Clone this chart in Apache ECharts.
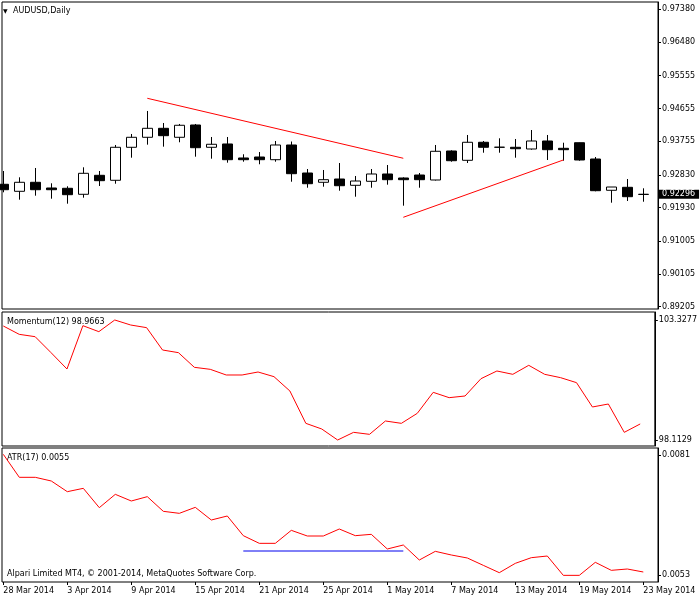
<!DOCTYPE html>
<html><head><meta charset="utf-8">
<script src="https://cdn.jsdelivr.net/npm/echarts@6/dist/echarts.min.js"></script>
<style>html,body{margin:0;padding:0;background:#fff}#c{width:700px;height:600px}</style>
</head><body><div id="c"></div><script>
const dates=['28 Mar 2014','31 Mar 2014','1 Apr 2014','2 Apr 2014','3 Apr 2014','4 Apr 2014','7 Apr 2014','8 Apr 2014','9 Apr 2014','10 Apr 2014','11 Apr 2014','14 Apr 2014','15 Apr 2014','16 Apr 2014','17 Apr 2014','18 Apr 2014','21 Apr 2014','22 Apr 2014','23 Apr 2014','24 Apr 2014','25 Apr 2014','28 Apr 2014','29 Apr 2014','30 Apr 2014','1 May 2014','2 May 2014','5 May 2014','6 May 2014','7 May 2014','8 May 2014','9 May 2014','12 May 2014','13 May 2014','14 May 2014','15 May 2014','16 May 2014','19 May 2014','20 May 2014','21 May 2014','22 May 2014','23 May 2014'];
const openP=[0.92570,0.92377,0.92625,0.92468,0.92460,0.92295,0.92817,0.92680,0.93587,0.93862,0.94109,0.93862,0.94200,0.93587,0.93678,0.93293,0.93320,0.93246,0.93650,0.92880,0.92625,0.92715,0.92542,0.92652,0.92853,0.92743,0.92825,0.92688,0.93485,0.93229,0.93725,0.93587,0.93587,0.93540,0.93760,0.93559,0.93713,0.93265,0.92405,0.92487,0.92290];
const closeP=[0.92421,0.92625,0.92421,0.92421,0.92284,0.92872,0.92669,0.93587,0.93862,0.94109,0.93906,0.94192,0.93576,0.93670,0.93246,0.93246,0.93246,0.93650,0.92861,0.92586,0.92696,0.92531,0.92660,0.92853,0.92696,0.92696,0.92696,0.93477,0.93218,0.93725,0.93587,0.93590,0.93548,0.93760,0.93521,0.93521,0.93238,0.92394,0.92495,0.92229,0.92296];
const lowP=[0.92350,0.92147,0.92257,0.92174,0.92037,0.92202,0.92523,0.92586,0.93301,0.93659,0.93604,0.93725,0.93329,0.93274,0.93164,0.93191,0.93120,0.93191,0.92641,0.92476,0.92504,0.92394,0.92229,0.92476,0.92559,0.91982,0.92476,0.92674,0.93191,0.93155,0.93438,0.93438,0.93301,0.93521,0.93238,0.93218,0.93218,0.92377,0.92064,0.92111,0.92091];
const highP=[0.92935,0.92762,0.93018,0.92597,0.92515,0.93037,0.92935,0.93650,0.93953,0.94585,0.94255,0.94228,0.94228,0.93870,0.93870,0.93395,0.93457,0.93760,0.93746,0.92990,0.92963,0.93155,0.92798,0.92990,0.93100,0.92762,0.92880,0.93650,0.93504,0.93925,0.93760,0.93834,0.93815,0.94062,0.93925,0.93713,0.93719,0.93320,0.92495,0.92715,0.92460];
const momentum=[103.067,102.705,102.603,101.908,101.198,103.081,102.821,103.3277,103.110,102.995,102.024,101.908,101.271,101.184,100.938,100.938,101.068,100.865,100.242,98.837,98.591,98.1129,98.446,98.359,98.939,98.837,99.272,100.184,99.953,100.025,100.778,101.112,100.967,101.358,100.967,100.822,100.605,99.547,99.677,98.446,98.81];
const atr=[0.008116,0.007579,0.007579,0.007493,0.007244,0.007322,0.006871,0.007182,0.007027,0.007128,0.006786,0.006739,0.006879,0.006583,0.006677,0.006218,0.006039,0.006039,0.006342,0.006210,0.006210,0.006373,0.006218,0.006249,0.005907,0.006000,0.005650,0.005852,0.005767,0.005697,0.005525,0.005354,0.005572,0.005704,0.005743,0.005292,0.005292,0.005596,0.005409,0.005440,0.005370];
const priceTicks=[0.97380,0.96480,0.95555,0.94655,0.93755,0.92830,0.91930,0.91005,0.90105,0.89205];
const momTicks=[103.3277,98.1129];
const atrTicks=[0.0081,0.0053];
const dateTickIdx=[0,4,8,12,16,20,24,28,32,36,40];
const lastPrice=0.92296;
const trendDown=[[9,0.94934],[25,0.93285]];
const trendUp=[[25,0.91663],[35,0.93238]];
const atrLevel=[[15,0.00586],[25,0.00586]];
const titleText='AUDUSD,Daily';
const momText='Momentum(12) 98.9663';
const atrText='ATR(17) 0.0055';
const copyText='Alpari Limited MT4, \u00a9 2001-2014, MetaQuotes Software Corp.';

const FF='"DejaVu Sans", sans-serif';
const FS=8;
const chart=echarts.init(document.getElementById('c'));
const gridBase={left:2,width:656,show:true,borderColor:'#000',borderWidth:1,backgroundColor:'rgba(0,0,0,0)'};
const xMin=-0.08125, xMax=40.91875;
function xAx(i,show){
  const o={gridIndex:i,type:'value',min:xMin,max:xMax,splitLine:{show:false},axisLine:{show:false,onZero:false}};
  if(!show){o.show=false;o.axisTick={show:false};o.axisLabel={show:false};return o;}
  o.axisTick={show:true,length:3,customValues:dateTickIdx,lineStyle:{color:'#000'}};
  o.axisLabel={customValues:dateTickIdx,formatter:v=>dates[Math.round(v)],align:'left',margin:5,color:'#000',fontSize:FS,fontFamily:FF};
  return o;
}
function yAx(i,min,max,ticks,fmt){
  return {gridIndex:i,type:'value',position:'right',min:min,max:max,
    splitLine:{show:false},
    axisLine:{show:true,onZero:false,lineStyle:{color:'#000'}},
    axisTick:{show:true,length:3,customValues:ticks,lineStyle:{color:'#000'}},
    axisLabel:{customValues:ticks,formatter:fmt,margin:4,color:'#000',fontSize:FS,fontFamily:FF}};
}
const redLine={color:'#ff0000',width:1};
chart.setOption({
  animation:false,
  grid:[Object.assign({top:2,height:307},gridBase),Object.assign({top:312,height:134},gridBase),Object.assign({top:448,height:134},gridBase)],
  xAxis:[xAx(0,false),xAx(1,false),xAx(2,true)],
  yAxis:[yAx(0,0.891419,0.9758066,priceTicks,v=>v.toFixed(5)),
         yAx(1,97.8522,103.6753,momTicks,v=>v.toFixed(4)),
         yAx(2,0.0051367,0.0082633,atrTicks,v=>v.toFixed(4))],
  graphic:[
    {type:'text',x:3,y:11,style:{text:'\u25BC',fontSize:6,fontFamily:FF,fill:'#000',verticalAlign:'middle'}},
    {type:'text',x:13,y:11,style:{text:titleText,fontSize:FS,fontFamily:FF,fill:'#000',verticalAlign:'middle'}},
    {type:'text',x:7,y:322,style:{text:momText,fontSize:FS,fontFamily:FF,fill:'#000',verticalAlign:'middle'}},
    {type:'text',x:7,y:458,style:{text:atrText,fontSize:FS,fontFamily:FF,fill:'#000',verticalAlign:'middle'}},
    {type:'text',x:7,y:574,style:{text:copyText,fontSize:FS,fontFamily:FF,fill:'#000',verticalAlign:'middle'}}
  ],
  series:[
    {type:'candlestick',xAxisIndex:0,yAxisIndex:0,barWidth:10,clip:true,
     data:dates.map((d,i)=>[i,openP[i],closeP[i],lowP[i],highP[i]]),
     encode:{x:0,y:[1,2,3,4]},
     itemStyle:{color:'#fff',color0:'#000',borderColor:'#000',borderColor0:'#000',borderWidth:1}},
    {type:'line',xAxisIndex:0,yAxisIndex:0,data:trendDown,showSymbol:false,lineStyle:redLine,silent:true},
    {type:'line',xAxisIndex:0,yAxisIndex:0,data:trendUp,showSymbol:false,lineStyle:redLine,silent:true},
    {type:'line',xAxisIndex:1,yAxisIndex:1,data:momentum.map((v,i)=>[i,v]),showSymbol:false,lineStyle:redLine,silent:true},
    {type:'line',xAxisIndex:2,yAxisIndex:2,data:atr.map((v,i)=>[i,v]),showSymbol:false,lineStyle:redLine,silent:true},
    {type:'line',xAxisIndex:2,yAxisIndex:2,data:atrLevel,showSymbol:false,lineStyle:{color:'#0000ee',width:1},silent:true}
  ]
});
// current price tag on the price axis, positioned through the y scale
const tagY=chart.convertToPixel({yAxisIndex:0},lastPrice);
const gridRight=chart.convertToPixel({xAxisIndex:0},xMax);
chart.setOption({graphic:[
  {type:'text',id:'priceTag',x:gridRight,y:tagY,z:100,style:{text:lastPrice.toFixed(5),fontSize:FS,fontFamily:FF,fill:'#fff',backgroundColor:'#000',padding:[1,4,0,4],verticalAlign:'middle',align:'left'}}
]});
</script></body></html>
